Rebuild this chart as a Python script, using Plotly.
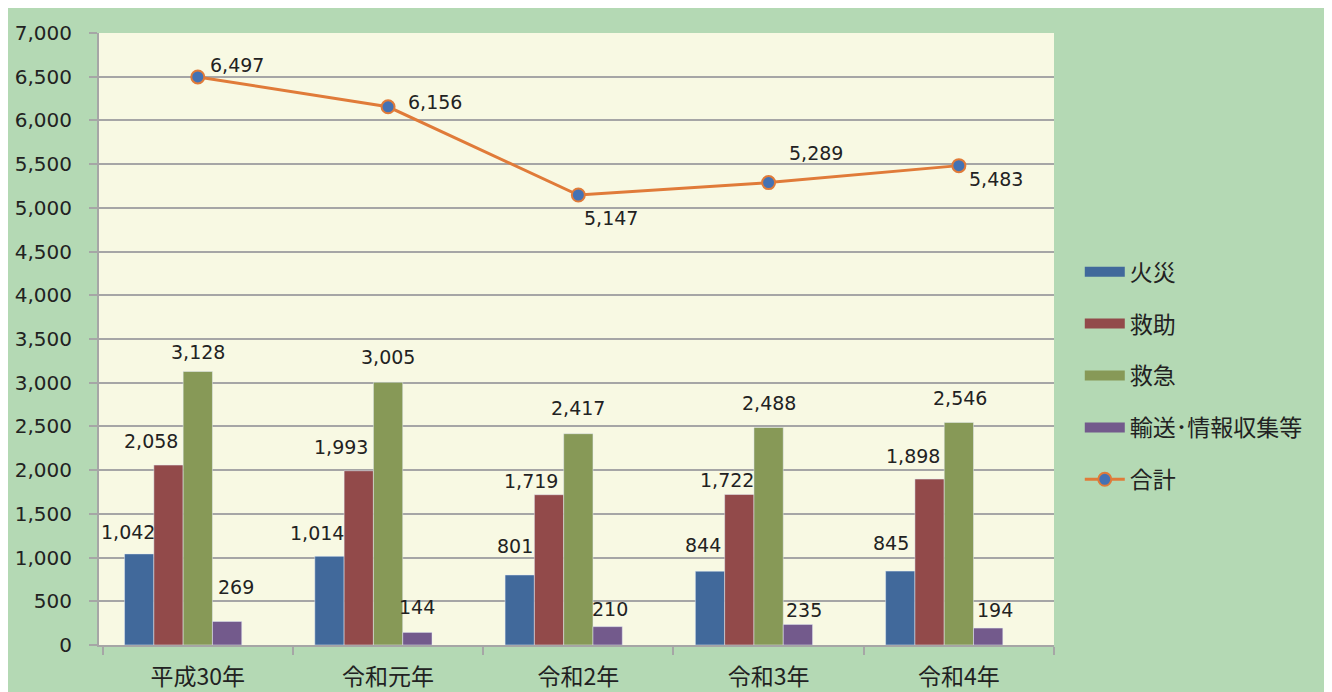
import plotly.graph_objects as go

categories = ["平成30年", "令和元年", "令和2年", "令和3年", "令和4年"]
fire = [1042, 1014, 801, 844, 845]
rescue = [2058, 1993, 1719, 1722, 1898]
emergency = [3128, 3005, 2417, 2488, 2546]
transport = [269, 144, 210, 235, 194]
total = [6497, 6156, 5147, 5289, 5483]
y_ticks = list(range(0, 7001, 500))

FONT = "DejaVu Sans, Noto Sans CJK JP"
CJK = "Noto Sans CJK JP"
bar_series = [
    ("火災", fire, "#41699b"),
    ("救助", rescue, "#924a4a"),
    ("救急", emergency, "#879957"),
    ("輸送･情報収集等", transport, "#735a8c"),
]

# label placement (pixel offsets of each value label from its bar top-centre)
SLOT = 29.4
bar_label_offsets = [
    [(-11, 22), (-12, 23), (-5, 29), (-7, 26), (-9, 28)],
    [(-17, 24), (-18, 24), (-18, 14), (-12, 14), (-16, 23)],
    [(0, 20), (0, 25), (0, 26), (0, 24), (1, 24)],
    [(9, 34), (0, 25), (2, 18), (6, 14), (7, 18)],
]
total_label_offsets = [(39, 12), (47, 5), (33, -23), (47, 30), (37, -13)]

fig = go.Figure()
for i, (name, vals, col) in enumerate(bar_series):
    fig.add_trace(go.Bar(x=categories, y=vals, name=name, marker_color=col,
                         showlegend=False))
    for c, v, (dx, dy) in zip(categories, vals, bar_label_offsets[i]):
        fig.add_annotation(x=c, y=v, text=f"{v:,}", showarrow=False,
                           xshift=(i - 2) * SLOT + dx, yshift=dy, yanchor="middle",
                           font=dict(size=19, color="#222222", family=FONT))
# empty slot keeps bars left of centre like the original
fig.add_trace(go.Bar(x=categories, y=[None] * 5, showlegend=False, hoverinfo="skip"))

fig.add_trace(go.Scatter(
    x=categories, y=total, name="合計", mode="lines+markers",
    line=dict(color="#e07b39", width=3),
    marker=dict(size=13, color="#4472b4", line=dict(color="#e07b39", width=2)),
    showlegend=False,
))
for c, v, (dx, dy) in zip(categories, total, total_label_offsets):
    fig.add_annotation(x=c, y=v, text=f"{v:,}", showarrow=False, xshift=dx, yshift=dy,
                       yanchor="middle", font=dict(size=19, color="#222222", family=FONT))

# legend entries (wide swatches like the original)
for i, (name, vals, col) in enumerate(bar_series):
    fig.add_trace(go.Scatter(x=[None], y=[None], mode="lines", name=name,
                             line=dict(color=col, width=12), legendgroup=f"g{i}",
                             hoverinfo="skip"))
fig.add_trace(go.Scatter(x=[None], y=[None], mode="lines+markers", name="合計",
                         line=dict(color="#e07b39", width=3),
                         marker=dict(size=13, color="#4472b4", line=dict(color="#e07b39", width=2)),
                         legendgroup="g5", hoverinfo="skip"))

fig.update_layout(
    width=1332, height=692,
    paper_bgcolor="#b4d9b4", plot_bgcolor="#f8f9e3",
    margin=dict(l=91, r=286, t=25, b=55, autoexpand=False),
    barmode="group", bargap=0.23, bargroupgap=0,
    font=dict(family=FONT, size=19, color="#222222"),
    legend=dict(x=1.027, y=0.645, xanchor="left", yanchor="top",
                bgcolor="rgba(0,0,0,0)", font=dict(size=23, family=CJK, color="#222222"),
                tracegroupgap=19, itemwidth=40),
    showlegend=True,
)
fig.update_yaxes(range=[0, 7000], tickvals=y_ticks, tickformat=",", automargin=False,
                 showgrid=True, gridcolor="#a6a6a6", gridwidth=2,
                 showline=True, linecolor="#a6a6a6", linewidth=2,
                 ticks="outside", ticklen=8, tickcolor="#a6a6a6", tickwidth=2,
                 ticklabelstandoff=13,
                 tickfont=dict(size=20, family=FONT, color="#222222"), zeroline=False)
fig.update_xaxes(showline=True, linecolor="#a6a6a6", linewidth=2, automargin=False,
                 ticks="outside", tickson="boundaries", ticklen=8, tickcolor="#a6a6a6", tickwidth=2,
                 ticklabelstandoff=10,
                 tickfont=dict(size=23, family=CJK, color="#222222"))

fig.write_html("out.html")
